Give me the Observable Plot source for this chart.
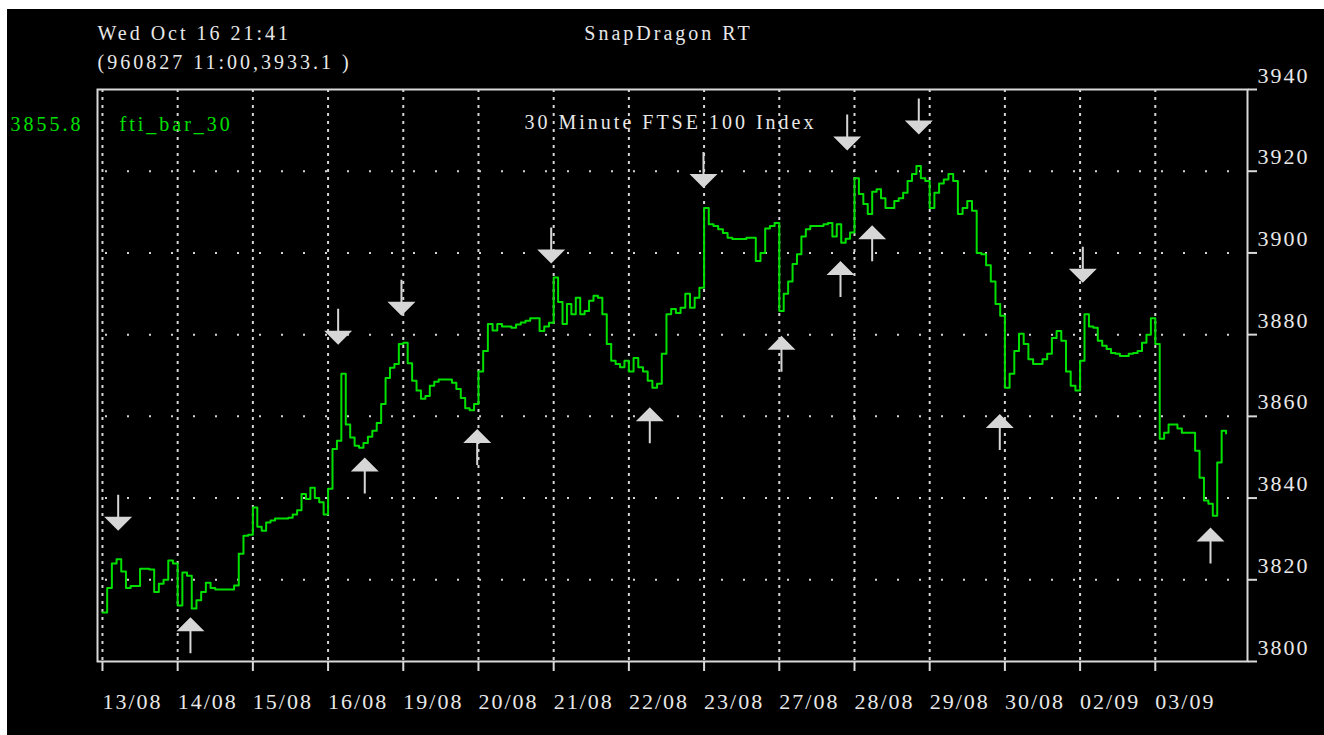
<!DOCTYPE html>
<html><head><meta charset="utf-8">
<script src="https://cdn.jsdelivr.net/npm/d3@7"></script>
<script src="https://cdn.jsdelivr.net/npm/@observablehq/plot@0.6"></script>
<style>
html,body{margin:0;padding:0;background:#fff;}
#chart{position:absolute;left:7px;top:9px;width:1317px;height:726px;background:#000;overflow:hidden;}
#chart svg{display:block;}
g[aria-description="wide"] text{letter-spacing:3px;}
g[aria-description="axis-labels"] text{letter-spacing:2px;}
</style></head><body><div id="chart"></div>
<script>
// ---- data ----
const days = ["13/08","14/08","15/08","16/08","19/08","20/08","21/08","22/08","23/08","27/08","28/08","29/08","30/08","02/09","03/09"];
const d13_08 = [3812,3818,3824,3825,3822,3818,3818.5,3818.5,3822.7,3822.7,3822.5,3817,3819,3820,3824.7,3824];
const d14_08 = [3813.7,3821.8,3821,3813,3815,3817,3819.3,3818,3817.6,3817.6,3817.6,3817.6,3818.6,3826.4,3830.8,3831];
const d15_08 = [3837.7,3833,3832,3834,3834.5,3835,3835,3835,3835.2,3836,3837,3841,3839.8,3842.5,3840,3839,3836];
const d16_08 = [3842.3,3852,3854,3870.4,3858,3854.8,3852.8,3852.3,3853.5,3855,3856.5,3858.4,3863,3869.4,3871.9,3872.8,3877.7];
const d19_08 = [3878,3873,3868.7,3866.3,3864.3,3865,3867.5,3868.5,3869,3869,3869,3868.2,3866.7,3864.5,3862,3861.5,3863];
const d20_08 = [3871,3876,3882.6,3881,3882.6,3882,3882,3881.7,3882.5,3883,3883.4,3884,3884,3880.9,3882,3882.9];
const d21_08 = [3894,3888,3882.6,3887.5,3885,3889,3885,3885.8,3888.3,3889.5,3889,3885,3877.7,3873.6,3872.8,3872,3873.6];
const d22_08 = [3871,3874.3,3872,3871,3868.7,3867,3868,3875.3,3885,3886.3,3885.3,3886.6,3890,3886.6,3889,3891.5];
const d23_08 = [3911,3907,3906.6,3905.8,3904.9,3903.7,3903.4,3903.4,3903.4,3903.7,3903.7,3898,3900,3906,3906.6,3907.3];
const d27_08 = [3885.8,3890,3893,3897.3,3899.7,3904,3905.8,3906.6,3906.6,3906.6,3907,3907.3,3904,3907,3902.5,3903.5,3905];
const d28_08 = [3918.3,3914.4,3912,3909.5,3915,3915.6,3913.4,3911,3911,3912.7,3913.4,3914.7,3917.6,3919.3,3921.3,3918.3,3917.6];
const d29_08 = [3911,3914.7,3917,3918,3919.3,3917.6,3909.5,3911,3912.7,3910.3,3900,3899.7,3897,3893,3887.5,3884.6];
const d30_08 = [3867,3870.4,3876,3880.2,3877.7,3874,3872.8,3872.8,3874,3875.3,3879.2,3880.9,3878.5,3871,3867.5,3866.3];
const d02_09 = [3873.6,3885,3882,3881.7,3878.5,3877.3,3876.5,3875.5,3875.3,3874.8,3874.8,3875.3,3875.5,3876,3878,3880,3884];
const d03_09 = [3877.7,3854.5,3856,3858,3858,3857,3856,3856,3856,3851.6,3845,3839.4,3838.6,3835.7,3848.7,3856.5,3855.8];
const dayValues = [d13_08,d14_08,d15_08,d16_08,d19_08,d20_08,d21_08,d22_08,d23_08,d27_08,d28_08,d29_08,d30_08,d02_09,d03_09];

const yTicks = [3800,3820,3840,3860,3880,3900,3920,3940];
const yGrid = [3820,3840,3860,3880,3900,3920];

// signal arrows: position in trading days (fractional) and index level at the arrow tip
const downArrowDay   = [0.209,3.134,3.976,5.967,7.992,9.903,10.855,13.036];
const downArrowValue = [3832.0,3877.5,3884.6,3897.4,3915.9,3925.1,3929.0,3892.7];
const upArrowDay     = [1.170,3.488,4.983,7.278,9.029,9.814,10.235,11.932,14.734];
const upArrowValue   = [3810.8,3849.9,3856.9,3862.2,3879.7,3898.0,3906.8,3860.6,3832.8];

const clockText = "Wed Oct 16 21:41";
const cursorText = "(960827 11:00,3933.1 )";
const appName = "SnapDragon RT";
const chartTitle = "30 Minute FTSE 100 Index";
const seriesName = "fti_bar_30";
const lastValue = "3855.8";

// ---- build ----
const series = dayValues.flatMap((vals, k) => vals.map((v, j) => ({x: k + j / vals.length, v})));
const downs = downArrowDay.map((d, i) => ({x: d, v: downArrowValue[i]}));
const ups = upArrowDay.map((d, i) => ({x: d, v: upArrowValue[i]}));
const dayIdx = days.map((d, i) => i);

const downArrow = {draw(c) { // tip at origin, pointing down
  c.moveTo(0, 0); c.lineTo(-14, -14); c.lineTo(-1, -14); c.lineTo(-1, -36);
  c.lineTo(1, -36); c.lineTo(1, -14); c.lineTo(14, -14); c.closePath();
}};
const upArrow = {draw(c) { // tip at origin, pointing up
  c.moveTo(0, 0); c.lineTo(-14, 14); c.lineTo(-1, 14); c.lineTo(-1, 36);
  c.lineTo(1, 36); c.lineTo(1, 14); c.lineTo(14, 14); c.closePath();
}};

const FONT = "Liberation Serif";
const WHITE = "#e8e8e8";
const GREEN = "#00e000";
const GRID = "#d4d4d4";

const chart = Plot.plot({
  width: 1317, height: 726,
  marginLeft: 90, marginTop: 80, marginRight: 77, marginBottom: 74,
  style: {background: "#000", color: WHITE, fontFamily: FONT, overflow: "visible"},
  x: {type: "linear", domain: [-0.066, 15.226], axis: null},
  y: {domain: [3800, 3940], axis: null},
  marks: [
    Plot.ruleX(dayIdx, {x: d => d, stroke: GRID, strokeWidth: 2, strokeDasharray: "3,5"}),
    Plot.ruleY(yGrid, {y: d => d, stroke: GRID, strokeWidth: 2, strokeDasharray: "2,20", strokeDashoffset: -8}),
    Plot.frame({stroke: "#d8d8d8", strokeWidth: 2}),
    Plot.axisY({anchor: "right", ticks: yTicks, tickSize: 9, tickFormat: () => "", label: null, stroke: "#d8d8d8", strokeWidth: 2}),
    Plot.axisX({anchor: "bottom", ticks: dayIdx, tickSize: 10, tickFormat: () => "", label: null, stroke: "#d8d8d8", strokeWidth: 2}),
    Plot.text(yTicks, {ariaDescription: "axis-labels", y: d => d, text: d => String(d), frameAnchor: "right", dx: 10, dy: -7,
      textAnchor: "start", lineAnchor: "bottom", fontSize: 22, fill: WHITE}),
    Plot.text(days, {ariaDescription: "axis-labels", x: (d, i) => i, text: d => d, frameAnchor: "bottom", dy: 47,
      textAnchor: "start", lineAnchor: "bottom", fontSize: 22, fill: WHITE}),
    Plot.line(series, {x: "x", y: "v", curve: "step-after", stroke: GREEN, strokeWidth: 2}),
    Plot.dot(downs, {x: "x", y: "v", symbol: downArrow, fill: "#d6d6d6", stroke: "none"}),
    Plot.dot(ups, {x: "x", y: "v", symbol: upArrow, fill: "#d6d6d6", stroke: "none"}),
    Plot.text([clockText], {ariaDescription: "wide", text: d => d, frameAnchor: "top-left", dy: -50, textAnchor: "start", lineAnchor: "bottom", fontSize: 20, fill: WHITE}),
    Plot.text([cursorText], {ariaDescription: "wide", text: d => d, frameAnchor: "top-left", dy: -21, textAnchor: "start", lineAnchor: "bottom", fontSize: 20, fill: WHITE}),
    Plot.text([appName], {ariaDescription: "wide", text: d => d, frameAnchor: "top-left", dx: 571, dy: -49.5, textAnchor: "middle", lineAnchor: "bottom", fontSize: 20, fill: WHITE}),
    Plot.text([chartTitle], {ariaDescription: "wide", text: d => d, frameAnchor: "top-left", dx: 573, dy: 39, textAnchor: "middle", lineAnchor: "bottom", fontSize: 20, fill: WHITE}),
    Plot.text([seriesName], {ariaDescription: "wide", text: d => d, frameAnchor: "top-left", dx: 22, dy: 41, textAnchor: "start", lineAnchor: "bottom", fontSize: 20, fill: GREEN}),
    Plot.text([lastValue], {ariaDescription: "wide", text: d => d, frameAnchor: "top-left", dx: -87, dy: 41, textAnchor: "start", lineAnchor: "bottom", fontSize: 20, fill: GREEN})
  ]
});
document.getElementById("chart").appendChild(chart);
</script></body></html>
